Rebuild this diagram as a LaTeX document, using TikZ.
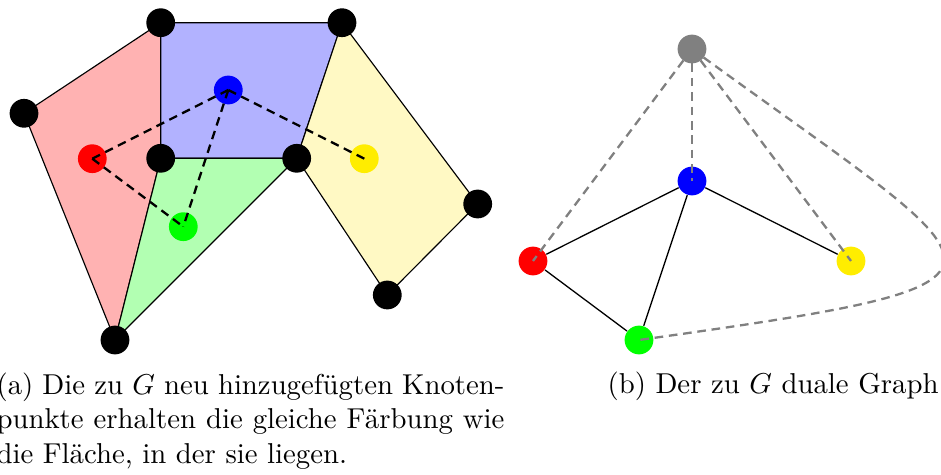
\documentclass[tikz,border=0pt]{standalone}
\usepackage{fontspec}
\definecolor{ydot}{RGB}{255,237,0}
\definecolor{yface}{RGB}{255,249,196}
\begin{document}
\begin{tikzpicture}[x=0.3477pt,y=-0.3477pt,
  vdot/.style={circle,fill=#1,draw=none,inner sep=0pt,minimum size=10pt},
  face/.style={draw=black,line width=0.4pt,line join=round},
  dualedge/.style={thick,dash pattern=on 3pt off 2pt},
  grayedge/.style={thick,gray,dash pattern=on 3pt off 2pt},
  plain/.style={line width=0.45pt}]
\useasboundingbox (0,0) rectangle (941,475);
% vertices of G
\coordinate (A) at (160.7,22.7);
\coordinate (B) at (342,22.7);
\coordinate (C) at (24,113.3);
\coordinate (D) at (160.7,158.3);
\coordinate (E) at (296.7,158.3);
\coordinate (F) at (477.7,204);
\coordinate (G) at (387.3,295);
\coordinate (H) at (115,340);
% faces
\filldraw[face,fill=red!30] (A) -- (C) -- (H) -- (D) -- cycle;
\filldraw[face,fill=blue!30] (A) -- (B) -- (E) -- (D) -- cycle;
\filldraw[face,fill=green!30] (D) -- (E) -- (H) -- cycle;
\filldraw[face,fill=yface] (B) -- (F) -- (G) -- (E) -- cycle;
% new vertices
\node[vdot=red] (r) at (92.3,158.7) {};
\node[vdot=blue] (b) at (228.3,90) {};
\node[vdot=green] (g) at (183.3,226.7) {};
\node[vdot=ydot] (y) at (364.3,158.7) {};
\draw[dualedge] (r.center) -- (b.center);
\draw[dualedge] (r.center) -- (g.center);
\draw[dualedge] (b.center) -- (g.center);
\draw[dualedge] (b.center) -- (y.center);
% black vertices
\foreach \v in {A,B,C,D,E,F,G,H} \node[vdot=black] (v\v) at (\v) {};
% dual graph
\node[vdot=gray] (dgr) at (692,49) {};
\node[vdot=blue] (db) at (692,181) {};
\node[vdot=red] (dr) at (533,261) {};
\node[vdot=ydot] (dy) at (851,261) {};
\node[vdot=green] (dg) at (639,340) {};
\draw[plain] (dr) -- (db);
\draw[plain] (db) -- (dg);
\draw[plain] (db) -- (dy);
\draw[plain] (dr) -- (dg);
\draw[grayedge] (dgr.center) -- (dr.center);
\draw[grayedge] (dgr.center) -- (db.center);
\draw[grayedge] (dgr.center) -- (dy.center);
\draw[grayedge] (dgr.center) .. controls (1008,280) and (1066,280) .. (dg.center);
% captions
\node[anchor=north west,inner sep=0pt,text width=176.6pt,align=justify] (capa) at (-4,372)
  {(a) Die zu $G$ neu hinzugefügten Knoten-\linebreak punkte erhalten die gleiche Färbung wie\linebreak die Fläche, in der sie liegen.};
\node[anchor=base west,inner sep=0pt] (capb) at (607,394) {(b) Der zu $G$ duale Graph};
\end{tikzpicture}
\end{document}
